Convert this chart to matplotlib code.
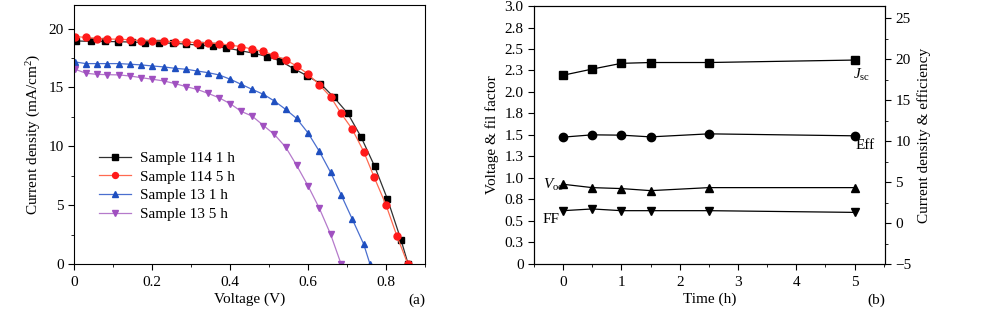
import numpy as np
import matplotlib
matplotlib.use("Agg")
import matplotlib.pyplot as plt
from matplotlib.ticker import MultipleLocator

plt.rcParams["font.family"] = ["Liberation Serif", "DejaVu Serif"]
plt.rcParams["mathtext.fontset"] = "custom"
plt.rcParams["mathtext.rm"] = "Liberation Serif"
plt.rcParams["mathtext.it"] = "Liberation Serif:italic"
plt.rcParams["font.size"] = 11

# ---- panel (a): J-V curves ----
v_114_1h = [0.005, 0.044, 0.079, 0.113, 0.148, 0.183, 0.218, 0.253, 0.287, 0.322, 0.357,
            0.391, 0.425, 0.461, 0.495, 0.529, 0.563, 0.597, 0.632, 0.666, 0.702, 0.736,
            0.771, 0.804, 0.839, 0.857]
j_114_1h = [18.95, 18.9, 18.9, 18.88, 18.85, 18.8, 18.78, 18.75, 18.68, 18.58, 18.5,
            18.35, 18.13, 17.9, 17.62, 17.25, 16.6, 16.0, 15.32, 14.18, 12.8, 10.8,
            8.3, 5.5, 2.0, 0.0]

v_grid = [0.003, 0.031, 0.058, 0.086, 0.115, 0.143, 0.172, 0.201, 0.230, 0.259, 0.288,
          0.316, 0.344, 0.372, 0.401, 0.429, 0.457, 0.486, 0.514, 0.543, 0.571, 0.600,
          0.629, 0.658, 0.685, 0.713, 0.743, 0.770, 0.800, 0.828, 0.856]
j_114_5h = [19.32, 19.24, 19.15, 19.1, 19.1, 19.04, 18.98, 18.95, 18.93, 18.87, 18.84,
            18.81, 18.78, 18.72, 18.58, 18.47, 18.24, 18.05, 17.73, 17.33, 16.82, 16.14,
            15.23, 14.2, 12.79, 11.48, 9.55, 7.36, 5.03, 2.39, 0.0]

v_13_1h = v_grid[:27] + [0.759]
j_13_1h = [17.16, 17.02, 17.02, 17.02, 17.02, 16.97, 16.91, 16.82, 16.74, 16.62, 16.54,
           16.39, 16.25, 16.06, 15.69, 15.26, 14.83, 14.41, 13.84, 13.13, 12.36, 11.14,
           9.58, 7.79, 5.88, 3.86, 1.68, 0.0]

v_13_5h = v_grid[:25]
j_13_5h = [16.54, 16.2, 16.11, 16.08, 16.06, 15.97, 15.83, 15.69, 15.55, 15.32, 15.06,
           14.83, 14.49, 14.12, 13.61, 12.96, 12.56, 11.76, 11.0, 9.92, 8.38, 6.65,
           4.75, 2.53, 0.0]

# ---- panel (b): parameters vs time ----
time_h = [0, 0.5, 1, 1.5, 2.5, 5]
jsc = [18.05, 18.8, 19.5, 19.6, 19.6, 19.9]
eff = [10.49, 10.77, 10.73, 10.52, 10.89, 10.65]
voc = [0.927, 0.888, 0.877, 0.853, 0.888, 0.888]
ff = [0.62, 0.64, 0.62, 0.62, 0.62, 0.60]
left_ticks = [0, 0.25, 0.5, 0.75, 1.0, 1.25, 1.5, 1.75, 2.0, 2.25, 2.5, 2.75, 3.0]
left_labels = ["0", "0.3", "0.5", "0.8", "1.0", "1.3", "1.5", "1.8", "2.0", "2.3", "2.5", "2.8", "3.0"]

fig = plt.figure(figsize=(9.94, 3.21), dpi=100)
ax1 = fig.add_axes([0.0744, 0.1776, 0.3531, 0.8069])
ax2 = fig.add_axes([0.5372, 0.1776, 0.3531, 0.8037])

ms = 5
lw = 0.9
ax1.plot(v_114_1h, j_114_1h, color="#303030", lw=lw, marker="s", ms=ms,
         mfc="black", mec="black", label="Sample 114 1 h")
ax1.plot(v_grid, j_114_5h, color="#ff6a50", lw=lw, marker="o", ms=ms,
         mfc="#ff1a1a", mec="#ff1a1a", label="Sample 114 5 h")
ax1.plot(v_13_1h, j_13_1h, color="#4a6fcf", lw=lw, marker="^", ms=ms,
         mfc="#1f4fc0", mec="#1f4fc0", label="Sample 13 1 h")
ax1.plot(v_13_5h, j_13_5h, color="#b57acb", lw=lw, marker="v", ms=ms,
         mfc="#a050c0", mec="#a050c0", label="Sample 13 5 h")

ax1.set_xlim(0, 0.9)
ax1.set_ylim(0, 22)
ax1.set_xticks([0, 0.2, 0.4, 0.6, 0.8])
ax1.set_xticklabels(["0", "0.2", "0.4", "0.6", "0.8"])
ax1.set_yticks([0, 5, 10, 15, 20])
ax1.xaxis.set_minor_locator(MultipleLocator(0.1))
ax1.yaxis.set_minor_locator(MultipleLocator(2.5))
ax1.tick_params(which="both", direction="out", top=False, right=False, labelsize=11)
ax1.tick_params(which="major", length=4)
ax1.tick_params(which="minor", length=2.5)
ax1.tick_params(axis="x", pad=5)
ax1.set_xlabel("Voltage (V)", fontsize=11, labelpad=2)
ax1.set_ylabel("Current density (mA/cm$^2$)", fontsize=11, labelpad=4)
ax1.text(1.0, -0.115, "(a)", transform=ax1.transAxes, ha="right", va="top", fontsize=11)
ax1.legend(loc="center left", bbox_to_anchor=(0.04, 0.3), frameon=False, fontsize=11,
           handlelength=2.1, handletextpad=0.6, labelspacing=0.32, borderpad=0.2,
           markerscale=0.85)

# panel (b)
ax3 = ax2.twinx()
ax2.plot(time_h, voc, color="black", lw=lw, marker="^", ms=6)
ax2.plot(time_h, ff, color="black", lw=lw, marker="v", ms=6)
ax3.plot(time_h, jsc, color="black", lw=lw, marker="s", ms=5.5)
ax3.plot(time_h, eff, color="black", lw=lw, marker="o", ms=6)

ax2.set_xlim(-0.5, 5.52)
ax2.set_ylim(0, 3.0)
ax2.set_yticks(left_ticks)
ax2.set_yticklabels(left_labels)
ax2.set_xticks([0, 1, 2, 3, 4, 5])
ax2.xaxis.set_minor_locator(MultipleLocator(0.5))
ax3.set_ylim(-5, 26.5)
ax3.set_yticks([-5, 0, 5, 10, 15, 20, 25])
ax3.set_yticklabels(["\u22125", "0", "5", "10", "15", "20", "25"])
ax3.yaxis.set_minor_locator(MultipleLocator(2.5))
ax2.tick_params(which="both", direction="out", top=False, right=False, labelsize=11)
ax2.tick_params(which="major", length=4)
ax2.tick_params(which="minor", length=2.5)
ax2.tick_params(axis="x", pad=5)
ax3.tick_params(which="both", direction="out", labelsize=11)
ax3.tick_params(which="major", length=4)
ax3.tick_params(which="minor", length=2.5)
ax2.set_xlabel("Time (h)", fontsize=11, labelpad=2)
ax2.set_ylabel("Voltage & fil factor", fontsize=11, labelpad=4)
ax3.set_ylabel("Current density & efficiency", fontsize=11, labelpad=4)
ax2.text(1.0, -0.115, "(b)", transform=ax2.transAxes, ha="right", va="top", fontsize=11)

ax2.text(4.98, 2.2, "$J_{\\mathrm{sc}}$", fontsize=11, va="center", ha="left")
ax2.text(5.02, 1.38, "Eff", fontsize=11, va="center", ha="left")
ax2.text(-0.35, 0.92, "$V_{\\mathrm{oc}}$", fontsize=11, va="center", ha="left")
ax2.text(-0.35, 0.52, "FF", fontsize=11, va="center", ha="left")

fig.savefig("out.png", dpi=100)
